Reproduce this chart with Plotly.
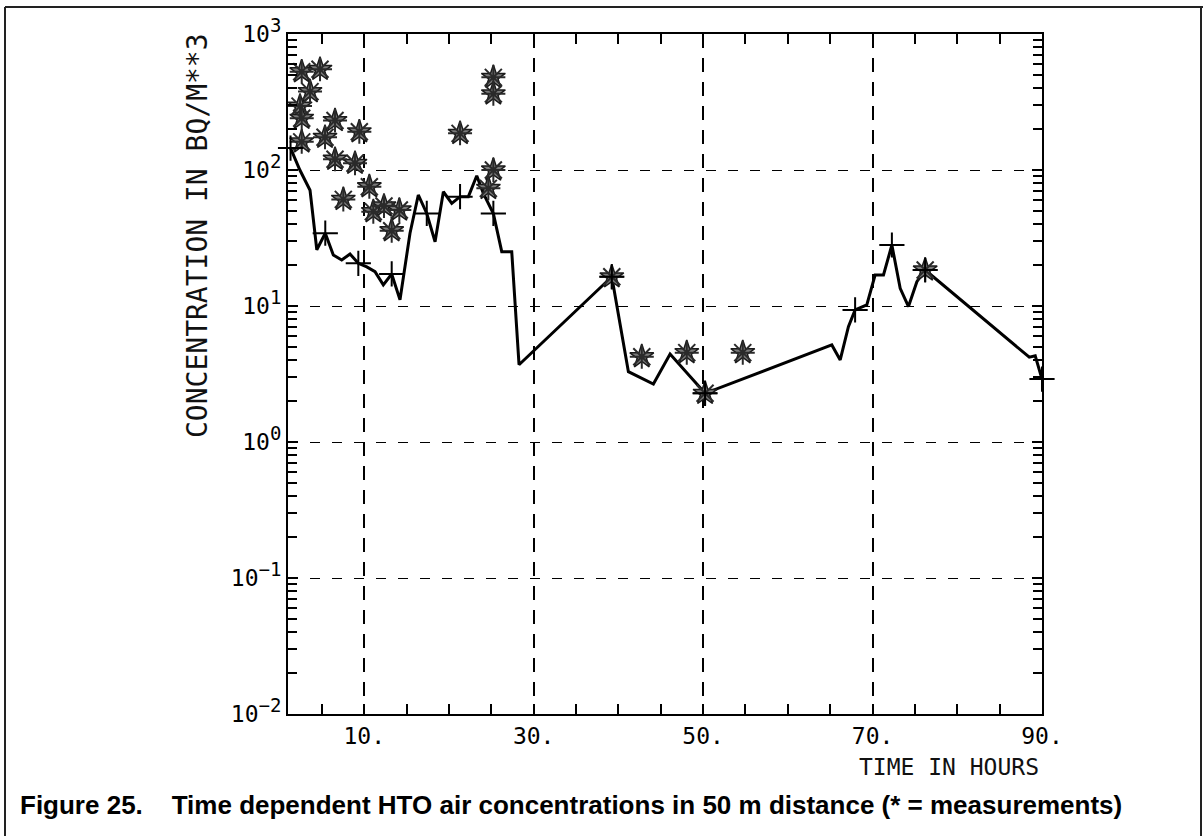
import plotly.graph_objects as go

# ---- data ----
model_t = [1.3, 2.4, 3.6, 4.4, 5.4, 6.35, 7.34, 8.32, 9.3, 10.3, 11.27, 12.25, 13.24, 14.22,
           15.4, 16.38, 17.38, 18.36, 19.34, 20.33, 21.31, 22.29, 23.28, 24.06, 25.24, 26.23,
           27.41, 28.27, 39.22, 41.18, 44.13, 46.1, 50.23, 65.19, 66.18, 67.15, 67.94, 69.32,
           70.3, 71.29, 72.28, 73.26, 74.24, 75.23, 76.21, 88.5, 89.2, 90.0]
model_c = [145, 100, 71, 25.9, 34.3, 23.7, 21.8, 24.1, 20.6, 19.4, 17.9, 14.3, 17.2, 11.1,
           34.3, 65.5, 47.9, 29.7, 69.2, 56.9, 63.7, 63.7, 90.8, 67.4, 47.9, 25.1,
           25.1, 3.7, 16.4, 3.29, 2.67, 4.44, 2.28, 5.17, 4.01, 7.05, 9.35, 10.2,
           16.9, 16.9, 28.1, 13.5, 9.9, 15.1, 18.4, 4.2, 4.3, 2.9]

plus_t = [1.3, 5.4, 9.3, 13.24, 17.38, 21.31, 25.24, 39.22, 50.23, 67.94, 72.28, 76.21, 90.0]
plus_c = [145, 34.3, 20.6, 17.2, 47.9, 63.7, 47.9, 16.4, 2.28, 9.35, 28.1, 18.4, 2.9]

meas_t = [2.62, 4.78, 3.6, 2.42, 2.62, 2.62, 6.55, 5.37, 9.42, 6.55, 8.91, 7.53, 10.6,
          11.07, 12.33, 14.14, 13.24, 21.31, 25.24, 25.24, 25.24, 24.65, 42.76, 48.07,
          54.68, 39.22, 50.23, 76.21]
meas_c = [528, 550, 377, 295, 240, 161, 231, 174, 191, 120, 112, 60.8, 75.4,
          49.4, 54.4, 50.8, 35.8, 186, 480, 363, 100, 73.3, 4.24, 4.54,
          4.54, 16.4, 2.28, 18.4]

xtick_vals = [10, 30, 50, 70, 90]
xtick_text = ["10.", "30.", "50.", "70.", "90."]
ytick_vals = [0.01, 0.1, 1, 10, 100, 1000]
ytick_exp = ["\u22122", "\u22121", "0", "1", "2", "3"]

x_title = "TIME IN HOURS"
y_title = "CONCENTRATION IN BQ/M**3"
caption = ("Figure 25.\u00a0\u00a0\u00a0 Time dependent HTO air concentrations in 50 m distance "
           "(* = measurements)")

# ---- layout geometry (pixels) ----
W, H = 1203, 836
L, R, T, B = 288, 1042, 34, 714
PW, PH = R - L, B - T


def px_x(p):
    return (p - L) / PW


def px_y(p):
    return (B - p) / PH


mono = "DejaVu Sans Mono"
ytick_text = ["10<sup><span style='font-size:19px'>%s</span></sup>" % e for e in ytick_exp]

x_minor = [v for v in range(5, 90, 5)]
y_minor = [d * 10 ** k for k in range(-2, 3) for d in range(2, 10)]

fig = go.Figure()
fig.add_trace(go.Scatter(x=model_t, y=model_c, mode="lines",
                         line=dict(color="black", width=3), cliponaxis=False,
                         showlegend=False, hoverinfo="skip"))
fig.add_trace(go.Scatter(x=meas_t, y=meas_c, mode="markers", cliponaxis=False,
                         marker=dict(symbol="star", size=18, color="#7a7a7a",
                                     line=dict(color="#1a1a1a", width=1.5)),
                         showlegend=False))
fig.add_trace(go.Scatter(x=meas_t, y=meas_c, mode="markers", cliponaxis=False,
                         marker=dict(symbol="asterisk-open", size=20, color="#2a2a2a",
                                     line=dict(color="#2a2a2a", width=2)),
                         showlegend=False))
fig.add_trace(go.Scatter(x=plus_t, y=plus_c, mode="markers", cliponaxis=False,
                         marker=dict(symbol="cross-thin-open", size=18, color="black",
                                     line=dict(color="black", width=2)),
                         showlegend=False))

axis_common = dict(showline=True, linecolor="black", linewidth=2, mirror="ticks",
                   ticks="inside", tickcolor="black", tickwidth=1.5, zeroline=False,
                   gridcolor="black", tickfont=dict(family=mono, size=23, color="black"))

fig.update_xaxes(range=[1, 90], tickmode="array", tickvals=xtick_vals, ticktext=xtick_text,
                 ticklen=10, showgrid=True, gridwidth=2, griddash="14px,10px",
                 minor=dict(tickmode="array", tickvals=x_minor, ticks="inside", ticklen=10,
                            tickwidth=1.5, tickcolor="black", showgrid=False),
                 **axis_common)
fig.update_yaxes(type="log", range=[-2, 3], tickmode="array", tickvals=ytick_vals,
                 ticktext=ytick_text, ticklen=10, showgrid=True, gridwidth=1,
                 griddash="10px,12px",
                 minor=dict(tickmode="array", tickvals=y_minor, ticks="inside", ticklen=9,
                            tickwidth=1.5, tickcolor="black", showgrid=False),
                 **axis_common)

fig.add_annotation(text=y_title, xref="paper", yref="paper", x=px_x(197), y=px_y(236),
                   textangle=-90, showarrow=False, xanchor="center", yanchor="middle",
                   font=dict(family=mono, size=28, color="#111"))
fig.add_annotation(text=x_title, xref="paper", yref="paper", x=px_x(1041), y=px_y(767),
                   showarrow=False, xanchor="right", yanchor="middle",
                   font=dict(family=mono, size=23, color="#111"))
fig.add_annotation(text="<b>%s</b>" % caption, xref="paper", yref="paper", x=px_x(18),
                   y=px_y(805), showarrow=False, xanchor="left", yanchor="middle",
                   font=dict(family="Liberation Sans, Arial", size=26, color="black"))

# outer frame
frame = dict(type="line", xref="paper", yref="paper", line=dict(color="#222", width=2))
fig.add_shape(x0=px_x(5), x1=px_x(1203), y0=px_y(7), y1=px_y(7), **frame)
fig.add_shape(x0=px_x(5), x1=px_x(5), y0=px_y(7), y1=px_y(836), **frame)
fig.add_shape(x0=px_x(1201), x1=px_x(1201), y0=px_y(7), y1=px_y(836), **frame)

fig.update_layout(width=W, height=H, margin=dict(l=L, r=W - R, t=T, b=H - B),
                  paper_bgcolor="white", plot_bgcolor="white", showlegend=False)

fig.write_html("out.html")
